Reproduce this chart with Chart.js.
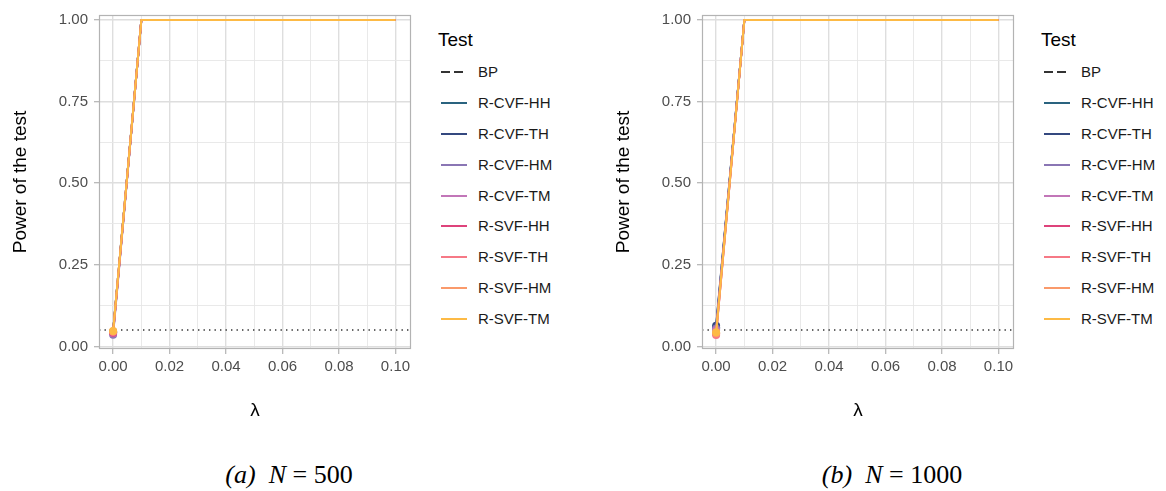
<!DOCTYPE html>
<html lang="en">
<head>
    <meta charset="UTF-8">
    <title>Power of the test</title>
    <script src="https://cdn.jsdelivr.net/npm/chart.js"></script>
    <style>
        body { margin: 0; background: #fff; width: 1166px; height: 491px; position: relative; overflow: hidden; font-family: "Liberation Sans", Arial, sans-serif; }
        canvas { position: absolute; top: 0; }
        .legend { position: absolute; top: 0; }
        .legend .title { position: absolute; left: 0; top: 40px; transform: translateY(-50%); font-size: 19px; color: #000; white-space: nowrap; }
        .legend .item { position: absolute; left: 0; transform: translateY(-50%); height: 20px; width: 140px; }
        .legend .key { position: absolute; left: 3px; top: 9px; width: 26px; height: 2px; }
        .legend .lab { position: absolute; left: 40px; top: 0; line-height: 20px; font-size: 15px; color: #1a1a1a; white-space: nowrap; }
        .caption { position: absolute; top: 475px; transform: translate(-50%, -50%); font-family: "Liberation Serif", "DejaVu Serif", serif; font-size: 26px; color: #000; white-space: nowrap; }
        .caption i { font-style: italic; }
    </style>
</head>
<body>
    <canvas id="graficoA" width="430" height="430" style="left:0px"></canvas>
    <canvas id="graficoB" width="430" height="430" style="left:603px"></canvas>
    <div class="legend" id="leyendaA" style="left:438px"></div>
    <div class="legend" id="leyendaB" style="left:1041px"></div>
    <div class="caption" style="left:289px"><i>(a)</i>&nbsp; <i>N</i>&nbsp;=&nbsp;500</div>
    <div class="caption" style="left:892px"><i>(b)</i>&nbsp; <i>N</i>&nbsp;=&nbsp;1000</div>

    <script>
        // lambda values on the x axis
        const lambda = [0, 0.01, 0.02, 0.03, 0.04, 0.05, 0.06, 0.07, 0.08, 0.09, 0.10];

        const tests = ['BP', 'R-CVF-HH', 'R-CVF-TH', 'R-CVF-HM', 'R-CVF-TM',
                       'R-SVF-HH', 'R-SVF-TH', 'R-SVF-HM', 'R-SVF-TM'];
        const testColors = ['#000000', '#2a637f', '#34487f', '#8a76b4', '#c276b8',
                            '#de437b', '#f67986', '#fa9a6b', '#fdba45'];

        // power per test (rows follow `tests`), N = 500
        const powerN500 = [
            [0.047, 1, 1, 1, 1, 1, 1, 1, 1, 1, 1],
            [0.045, 1, 1, 1, 1, 1, 1, 1, 1, 1, 1],
            [0.043, 1, 1, 1, 1, 1, 1, 1, 1, 1, 1],
            [0.036, 1, 1, 1, 1, 1, 1, 1, 1, 1, 1],
            [0.040, 1, 1, 1, 1, 1, 1, 1, 1, 1, 1],
            [0.042, 1, 1, 1, 1, 1, 1, 1, 1, 1, 1],
            [0.044, 1, 1, 1, 1, 1, 1, 1, 1, 1, 1],
            [0.046, 1, 1, 1, 1, 1, 1, 1, 1, 1, 1],
            [0.047, 1, 1, 1, 1, 1, 1, 1, 1, 1, 1]
        ];

        // power per test, N = 1000
        const powerN1000 = [
            [0.052, 1, 1, 1, 1, 1, 1, 1, 1, 1, 1],
            [0.058, 1, 1, 1, 1, 1, 1, 1, 1, 1, 1],
            [0.063, 1, 1, 1, 1, 1, 1, 1, 1, 1, 1],
            [0.055, 1, 1, 1, 1, 1, 1, 1, 1, 1, 1],
            [0.050, 1, 1, 1, 1, 1, 1, 1, 1, 1, 1],
            [0.039, 1, 1, 1, 1, 1, 1, 1, 1, 1, 1],
            [0.035, 1, 1, 1, 1, 1, 1, 1, 1, 1, 1],
            [0.040, 1, 1, 1, 1, 1, 1, 1, 1, 1, 1],
            [0.043, 1, 1, 1, 1, 1, 1, 1, 1, 1, 1]
        ];

        const nominalLevel = 0.05;

        // axes
        const xMin = -0.005, xMax = 0.1055;
        const yMin = -0.008, yMax = 1.015;
        const xMajor = [0, 0.02, 0.04, 0.06, 0.08, 0.10];
        const xMinor = [0.01, 0.03, 0.05, 0.07, 0.09];
        const yMajor = [0, 0.25, 0.50, 0.75, 1];
        const yMinor = [0.125, 0.375, 0.625, 0.875];

        const tickFont = { family: 'Liberation Sans', size: 15 };
        const titleFont = { family: 'Liberation Sans', size: 19 };

        const bordePanel = {
            id: 'bordePanel',
            afterDatasetsDraw(chart) {
                const a = chart.chartArea;
                const ctx = chart.ctx;
                ctx.save();
                ctx.strokeStyle = '#b3b3b3';
                ctx.lineWidth = 1.2;
                ctx.strokeRect(Math.round(a.left) + 0.5, Math.round(a.top) + 0.5,
                               Math.round(a.right - a.left) - 1, Math.round(a.bottom - a.top) - 1);
                ctx.restore();
            }
        };

        function ejeConfig(major, minor, min, max, title, isX) {
            const all = major.concat(minor).sort((a, b) => a - b);
            const isMajor = v => major.includes(v);
            return {
                type: 'linear',
                position: isX ? 'bottom' : 'left',
                min: min,
                max: max,
                afterBuildTicks: s => { s.ticks = all.map(v => ({ value: v })); },
                afterFit: s => { if (isX) s.height = 81; else s.width = 99; },
                ticks: {
                    autoSkip: false,
                    maxRotation: 0,
                    font: tickFont,
                    color: '#4d4d4d',
                    padding: isX ? 4 : 6,
                    callback: v => isMajor(v) ? v.toFixed(2) : ''
                },
                grid: {
                    color: c => isMajor(c.tick.value) ? '#dedede' : '#e6e6e6',
                    lineWidth: c => isMajor(c.tick.value) ? 1.4 : 0.9,
                    tickLength: 5,
                    tickWidth: 1.2,
                    tickColor: c => isMajor(c.tick.value) ? '#b3b3b3' : 'rgba(0,0,0,0)'
                },
                border: { display: false },
                title: {
                    display: true,
                    text: title,
                    font: titleFont,
                    color: '#000',
                    padding: isX ? { top: 0, bottom: 7.6 } : { top: 9.5, bottom: 0 }
                }
            };
        }

        function crearGrafico(id, power) {
            const datasets = tests.map((name, i) => ({
                label: name,
                data: lambda.map((x, j) => ({ x: x, y: power[i][j] })),
                borderColor: testColors[i],
                backgroundColor: testColors[i],
                borderWidth: 2,
                borderDash: name === 'BP' ? [9, 4] : [],
                pointRadius: lambda.map(x => (x === 0 && name !== 'BP') ? 4 : 0),
                pointBorderWidth: 0,
                order: tests.length - i
            }));
            datasets.push({
                label: 'nominal',
                data: [{ x: xMin, y: nominalLevel }, { x: xMax, y: nominalLevel }],
                borderColor: '#333333',
                borderWidth: 1.4,
                borderDash: [1.4, 4.1],
                pointRadius: 0,
                order: 99
            });

            const ctx = document.getElementById(id).getContext('2d');
            return new Chart(ctx, {
                type: 'line',
                data: { datasets: datasets },
                plugins: [bordePanel],
                options: {
                    responsive: false,
                    animation: false,
                    events: [],
                    layout: { padding: { left: 0, top: 11, right: 19, bottom: 0 } },
                    plugins: { legend: { display: false }, tooltip: { enabled: false } },
                    scales: {
                        x: ejeConfig(xMajor, xMinor, xMin, xMax, 'λ', true),
                        y: ejeConfig(yMajor, yMinor, yMin, yMax, 'Power of the test', false)
                    }
                }
            });
        }

        function crearLeyenda(id) {
            const cont = document.getElementById(id);
            const t = document.createElement('div');
            t.className = 'title';
            t.textContent = 'Test';
            cont.appendChild(t);
            tests.forEach((name, i) => {
                const it = document.createElement('div');
                it.className = 'item';
                it.style.top = (72.3 + i * 30.8) + 'px';
                const key = document.createElement('div');
                key.className = 'key';
                key.style.background = name === 'BP'
                    ? 'repeating-linear-gradient(90deg, #333 0 9px, transparent 9px 13px)'
                    : testColors[i];
                const lab = document.createElement('div');
                lab.className = 'lab';
                lab.textContent = name;
                it.appendChild(key);
                it.appendChild(lab);
                cont.appendChild(it);
            });
        }

        crearGrafico('graficoA', powerN500);
        crearGrafico('graficoB', powerN1000);
        crearLeyenda('leyendaA');
        crearLeyenda('leyendaB');
    </script>
</body>
</html>
